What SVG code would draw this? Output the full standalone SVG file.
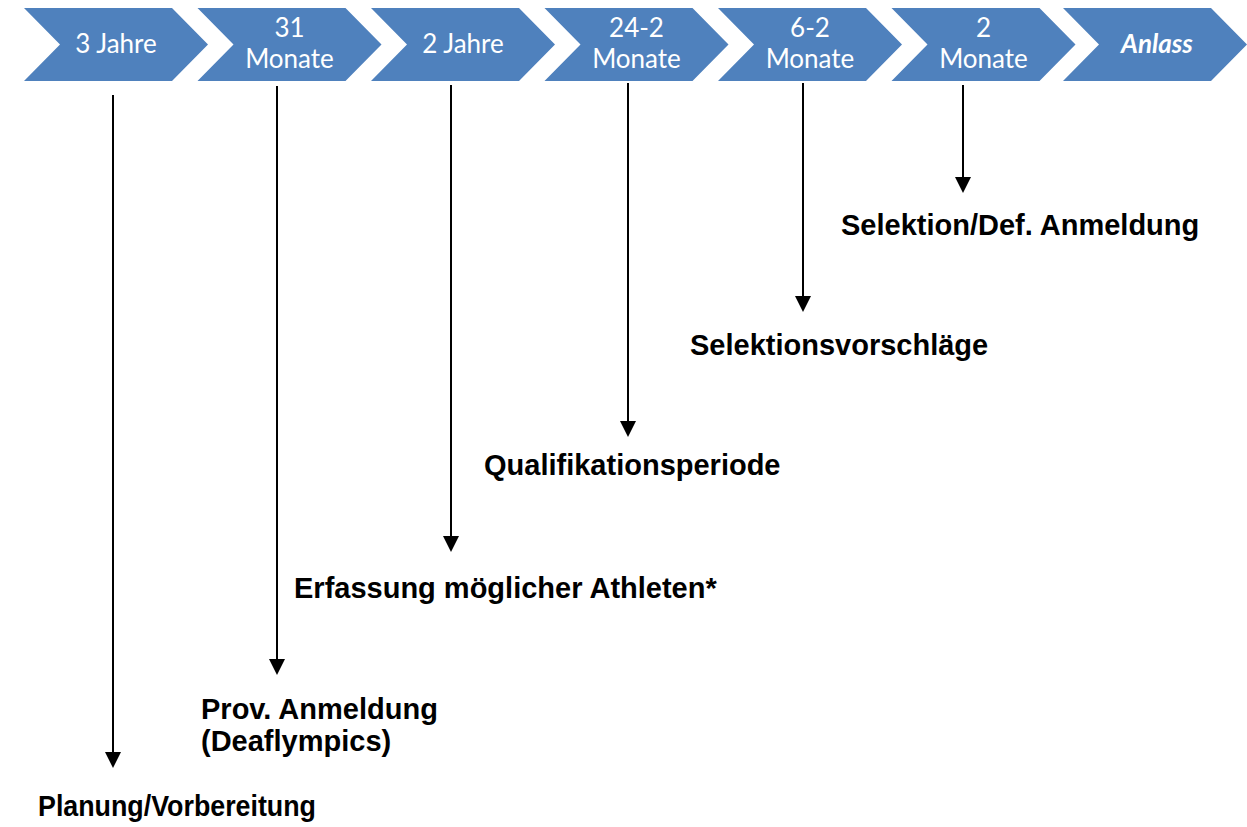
<svg xmlns="http://www.w3.org/2000/svg" width="1247" height="827" viewBox="0 0 1247 827">
<style>
.chev{fill:#4F81BD}
.ct{font-family:Lato,"Open Sans",sans-serif;font-size:26px;fill:#ffffff;text-anchor:middle}
.lbl{font-family:"Liberation Sans",Arial,sans-serif;font-size:29px;font-weight:bold;fill:#000000}
.line{stroke:#000000;stroke-width:2;fill:none}
.head{fill:#000000}
</style>
<defs>
<path id="chevron" d="M0,8 L148,8 L184,44.5 L148,81 L0,81 L36,44.5 Z"/>
</defs>
<rect width="1247" height="827" fill="#ffffff"/>
<g id="step1"><use href="#chevron" class="chev" x="24"/><text class="ct" x="116" y="53">3 Jahre</text></g>
<g id="step2"><use href="#chevron" class="chev" x="197.5"/><text class="ct" x="289.5" y="37">31</text><text class="ct" x="289.5" y="68">Monate</text></g>
<g id="step3"><use href="#chevron" class="chev" x="371"/><text class="ct" x="463" y="53">2 Jahre</text></g>
<g id="step4"><use href="#chevron" class="chev" x="544.5"/><text class="ct" x="636.5" y="37">24-2</text><text class="ct" x="636.5" y="68">Monate</text></g>
<g id="step5"><use href="#chevron" class="chev" x="718"/><text class="ct" x="810" y="37">6-2</text><text class="ct" x="810" y="68">Monate</text></g>
<g id="step6"><use href="#chevron" class="chev" x="891.5"/><text class="ct" x="983.5" y="37">2</text><text class="ct" x="983.5" y="68">Monate</text></g>
<g id="step7"><use href="#chevron" class="chev" x="1063"/><text class="ct" x="1157" y="53" font-weight="bold" font-style="italic">Anlass</text></g>
<g id="connectors">
<path class="line" d="M113,95 V753"/>
<path class="head" d="M105,752 L121,752 L113,768 Z"/>
<path class="line" d="M277,86 V660"/>
<path class="head" d="M269,659 L285,659 L277,675 Z"/>
<path class="line" d="M451,85 V537"/>
<path class="head" d="M443,536 L459,536 L451,552 Z"/>
<path class="line" d="M628,83 V422"/>
<path class="head" d="M620,421 L636,421 L628,437 Z"/>
<path class="line" d="M803,83 V297"/>
<path class="head" d="M795,296 L811,296 L803,312 Z"/>
<path class="line" d="M963,85 V178"/>
<path class="head" d="M955,177 L971,177 L963,193 Z"/>
</g>
<g id="label6"><text class="lbl" x="841" y="235">Selektion/Def. Anmeldung</text></g>
<g id="label5"><text class="lbl" x="690" y="355">Selektionsvorschläge</text></g>
<g id="label4"><text class="lbl" x="484" y="475">Qualifikationsperiode</text></g>
<g id="label3"><text class="lbl" x="294" y="598">Erfassung möglicher Athleten*</text></g>
<g id="label2"><text class="lbl" x="201" y="719">Prov. Anmeldung</text><text class="lbl" x="201" y="751">(Deaflympics)</text></g>
<g id="label1"><text class="lbl" x="38" y="816" textLength="278" lengthAdjust="spacingAndGlyphs">Planung/Vorbereitung</text></g>
</svg>
